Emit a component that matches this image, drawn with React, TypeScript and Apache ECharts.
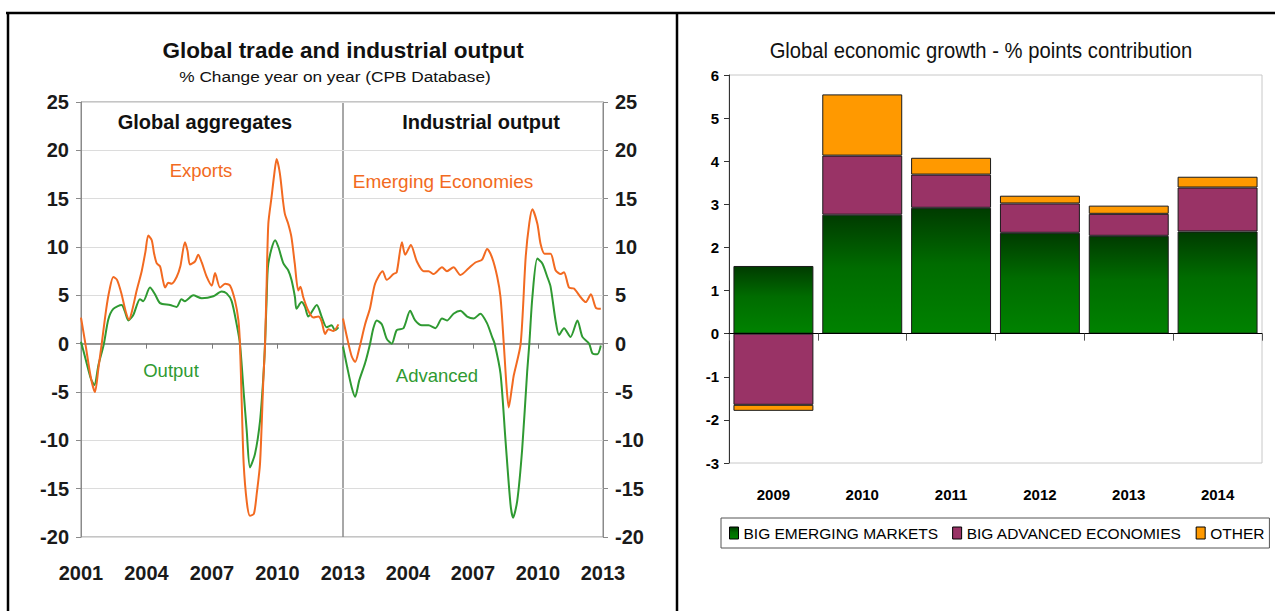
import React, { useEffect, useRef } from "react";
import * as echarts from "echarts";

// ---------- Left chart data: % change year on year (decimal year, value) ----------
const exportsData: [number, number][] = [
  [2001.0, 2.7], [2001.2, 0.0], [2001.45, -3.5], [2001.64, -5.0], [2001.8, -2.5], [2001.95, 0],
  [2002.15, 3.5], [2002.3, 5.5], [2002.48, 6.9], [2002.65, 6.6], [2002.85, 5.2], [2003.05, 3.3],
  [2003.2, 2.5], [2003.35, 3.5], [2003.55, 5.5], [2003.78, 7.5], [2003.95, 9.5], [2004.08, 11.2],
  [2004.24, 10.7], [2004.35, 9.3], [2004.47, 8.3], [2004.62, 8.0], [2004.75, 6.6], [2004.85, 5.8],
  [2005.0, 6.3], [2005.15, 6.2], [2005.38, 6.9], [2005.55, 8.0], [2005.76, 10.5], [2005.88, 9.6],
  [2005.99, 8.2], [2006.22, 8.5], [2006.37, 9.2], [2006.53, 8.4], [2006.76, 6.9], [2006.99, 6.0],
  [2007.14, 7.3], [2007.37, 5.8], [2007.6, 6.2], [2007.83, 6.0], [2008.06, 4.4], [2008.21, 2.4],
  [2008.28, 0], [2008.36, -6], [2008.45, -12.4], [2008.6, -16.5], [2008.74, -17.8], [2008.92, -17.6],
  [2009.05, -15.5], [2009.2, -12.4], [2009.35, -3.8], [2009.43, 0], [2009.5, 6], [2009.58, 12.4],
  [2009.73, 15.2], [2009.85, 17.5], [2009.96, 19.1], [2010.11, 17.6], [2010.25, 14.8], [2010.34, 13.4],
  [2010.49, 12.4], [2010.64, 11.0], [2010.79, 8.3], [2010.95, 5.5], [2011.05, 5.9], [2011.18, 4.8],
  [2011.41, 3.4], [2011.64, 2.7], [2011.87, 2.8], [2012.02, 2.3], [2012.18, 1.0], [2012.33, 1.5],
  [2012.56, 1.3], [2012.79, 2.0],
];

const outputData: [number, number][] = [
  [2001.0, 0.2], [2001.2, -1.5], [2001.45, -3.6], [2001.61, -4.3], [2001.8, -2.2], [2002.05, 0],
  [2002.25, 2.5], [2002.48, 3.6], [2002.86, 4.0], [2003.0, 3.4], [2003.17, 2.4], [2003.4, 3.0],
  [2003.7, 4.6], [2003.85, 4.4], [2004.16, 5.8], [2004.39, 5.1], [2004.62, 4.2], [2005.08, 4.0],
  [2005.38, 3.8], [2005.6, 4.6], [2005.76, 4.4], [2006.14, 5.0], [2006.53, 4.7], [2007.06, 4.9],
  [2007.44, 5.4], [2007.67, 5.2], [2007.9, 4.4], [2008.13, 2.0], [2008.28, 0], [2008.45, -5],
  [2008.59, -9.0], [2008.74, -12.8], [2008.97, -11.4], [2009.2, -8.0], [2009.35, -3.5], [2009.43, 0],
  [2009.5, 4.5], [2009.58, 8.3], [2009.89, 10.7], [2010.04, 10.0], [2010.27, 8.3], [2010.49, 7.6],
  [2010.64, 6.6], [2010.8, 4.8], [2010.87, 3.6], [2011.1, 4.3], [2011.26, 3.8], [2011.41, 2.8],
  [2011.8, 4.0], [2012.02, 2.8], [2012.25, 1.7], [2012.48, 1.9], [2012.63, 1.4], [2012.79, 1.7],
];

const emergingData: [number, number][] = [
  [2001.0, 2.6], [2001.2, 0.5], [2001.4, -1.3], [2001.56, -1.9], [2001.75, -0.5], [2002.02, 2.0],
  [2002.25, 3.7], [2002.48, 6.2], [2002.83, 7.5], [2003.02, 6.6], [2003.33, 7.2], [2003.48, 7.4],
  [2003.72, 10.5], [2003.87, 9.2], [2004.13, 10.2], [2004.41, 8.5], [2004.72, 7.5], [2004.95, 7.5],
  [2005.18, 7.2], [2005.57, 7.9], [2005.8, 7.5], [2006.1, 7.9], [2006.42, 7.1], [2006.8, 7.8],
  [2007.11, 8.4], [2007.42, 8.7], [2007.65, 9.8], [2007.88, 8.9], [2008.12, 6.9], [2008.27, 4.8],
  [2008.42, 0], [2008.55, -4.5], [2008.65, -6.6], [2008.8, -4.5], [2008.88, -3.3], [2009.2, 0],
  [2009.43, 8.9], [2009.6, 12.5], [2009.74, 13.9], [2009.97, 12.4], [2010.12, 10.3], [2010.3, 9.3],
  [2010.58, 9.3], [2010.81, 7.6], [2011.05, 7.2], [2011.2, 7.4], [2011.43, 5.8], [2011.66, 5.7],
  [2011.97, 4.8], [2012.2, 4.3], [2012.44, 5.1], [2012.67, 3.7], [2012.9, 3.6],
];

const advancedData: [number, number][] = [
  [2001.0, -0.3], [2001.2, -2.5], [2001.4, -4.5], [2001.56, -5.5], [2001.75, -3.8], [2002.02, -2.0],
  [2002.25, 0], [2002.4, 1.6], [2002.56, 2.4], [2002.79, 2.0], [2003.02, 0.5], [2003.25, 0],
  [2003.48, 1.4], [2003.79, 1.6], [2004.1, 3.4], [2004.33, 2.4], [2004.64, 1.9], [2004.95, 1.9],
  [2005.26, 1.6], [2005.57, 2.6], [2005.8, 2.4], [2006.1, 3.1], [2006.42, 3.4], [2006.73, 2.8],
  [2007.03, 2.6], [2007.34, 3.1], [2007.65, 2.1], [2007.88, 0.7], [2008.0, 0], [2008.27, -3.1],
  [2008.5, -10], [2008.73, -16.6], [2008.85, -18], [2009.04, -16.3], [2009.27, -10.9], [2009.5, -2.9],
  [2009.6, 0], [2009.74, 4.8], [2009.97, 8.8], [2010.2, 8.3], [2010.43, 6.9], [2010.58, 5.9],
  [2010.81, 2.4], [2010.97, 0.9], [2011.2, 1.6], [2011.5, 0.7], [2011.82, 2.4], [2012.05, 0.7],
  [2012.36, 0], [2012.51, -1.0], [2012.74, -1.1], [2012.9, -0.2],
];

// ---------- Right chart data: % points contribution ----------
const barCategories = ["2009", "2010", "2011", "2012", "2013", "2014"];
const bigEmerging = [1.57, 2.76, 2.92, 2.34, 2.27, 2.37];
const bigAdvanced = [-1.65, 1.37, 0.77, 0.68, 0.51, 1.02];
const otherContrib = [-0.14, 1.42, 0.39, 0.18, 0.19, 0.25];

const AR = "'Liberation Sans', Arial, Helvetica, sans-serif";
const ORANGE = "#f26a21";
const GREEN = "#2f9a32";
const GRAYAXIS = "#8a8a8a";

function txt(text: string, x: number, y: number, font: string, fill: string, scaleX = 1) {
  return {
    type: "text",
    x,
    y,
    scaleX,
    silent: true,
    style: {
      text,
      font,
      fill,
      align: "center",
      textAlign: "center",
      verticalAlign: "middle",
      textVerticalAlign: "middle",
    },
  };
}

function frameLine(x1: number, y1: number, x2: number, y2: number) {
  return {
    type: "line",
    silent: true,
    shape: { x1, y1, x2, y2 },
    style: { stroke: "#000", lineWidth: 2.5 },
  };
}

export default function App() {
  const ref = useRef<HTMLDivElement>(null);

  useEffect(() => {
    document.body.style.margin = "0";
    if (!ref.current) return;
    const chart = echarts.init(ref.current, undefined, { renderer: "svg" });

    const yearAxisBottom = (gridIndex: number, hideMin: boolean) => ({
      gridIndex,
      type: "value",
      min: 2001,
      max: 2013,
      interval: 3,
      position: "bottom",
      axisLine: { show: false, onZero: false },
      axisTick: { show: false },
      splitLine: { show: false },
      axisLabel: {
        showMinLabel: !hideMin,
        formatter: (v: number) => String(v),
        fontSize: 20,
        fontWeight: "bold",
        fontFamily: AR,
        color: "#1a1a1a",
        margin: 26,
      },
    });
    const yearAxisZero = (gridIndex: number) => ({
      gridIndex,
      type: "value",
      min: 2001,
      max: 2013,
      interval: 3,
      position: "top",
      axisLine: { show: true, onZero: true, lineStyle: { color: "#7a7a7a", width: 1.5 } },
      axisTick: { show: true, inside: true, length: 5, lineStyle: { color: "#7a7a7a" } },
      axisLabel: { show: false },
      splitLine: { show: false },
    });
    const pctAxis = (gridIndex: number, position: string) => ({
      gridIndex,
      type: "value",
      min: -20,
      max: 25,
      interval: 5,
      position,
      axisLine: { show: true, onZero: false, lineStyle: { color: GRAYAXIS } },
      axisTick: { show: true, length: 5, lineStyle: { color: GRAYAXIS } },
      splitLine: { show: true, lineStyle: { color: "#dcdcdc", width: 1 } },
      axisLabel: {
        fontSize: 20,
        fontWeight: "bold",
        fontFamily: AR,
        color: "#1a1a1a",
        margin: 12,
      },
    });

    const lineSeries = (name: string, data: [number, number][], color: string, xi: number, yi: number) => ({
      name,
      type: "line",
      xAxisIndex: xi,
      yAxisIndex: yi,
      data,
      showSymbol: false,
      smooth: 0.25,
      lineStyle: { color, width: 2 },
      itemStyle: { color },
      z: color === ORANGE ? 4 : 3,
    });

    const greenGrad = new echarts.graphic.LinearGradient(0, 0, 0, 1, [
      { offset: 0, color: "#003b00" },
      { offset: 0.45, color: "#006c00" },
      { offset: 1, color: "#008200" },
    ]);

    const barBase = {
      type: "bar",
      stack: "total",
      xAxisIndex: 4,
      yAxisIndex: 2,
      barCategoryGap: "10%",
    };

    const option: any = {
      animation: false,
      backgroundColor: "#ffffff",
      grid: [
        { left: 81, top: 102, width: 262, height: 435, show: true, borderColor: GRAYAXIS, borderWidth: 1 },
        { left: 343, top: 102, width: 260, height: 435, show: true, borderColor: GRAYAXIS, borderWidth: 1 },
        { left: 729, top: 75, width: 533, height: 388, show: true, borderColor: "#c8c8c8", borderWidth: 1 },
      ],
      xAxis: [
        yearAxisBottom(0, false),
        yearAxisZero(0),
        yearAxisBottom(1, true),
        yearAxisZero(1),
        {
          gridIndex: 2,
          type: "category",
          data: barCategories,
          position: "bottom",
          axisLine: { show: false, onZero: false },
          axisTick: { show: false },
          axisLabel: { fontSize: 15, fontWeight: "bold", fontFamily: AR, color: "#000", margin: 24 },
        },
        {
          gridIndex: 2,
          type: "category",
          data: barCategories,
          position: "top",
          axisLine: { show: true, onZero: true, lineStyle: { color: "#000", width: 1.2 } },
          axisTick: { show: true, inside: true, length: 7, lineStyle: { color: "#555" } },
          axisLabel: { show: false },
          z: 5,
        },
      ],
      yAxis: [
        pctAxis(0, "left"),
        pctAxis(1, "right"),
        {
          gridIndex: 2,
          type: "value",
          min: -3,
          max: 6,
          interval: 1,
          axisLine: { show: true, onZero: false, lineStyle: { color: "#333" } },
          axisTick: { show: true, length: 5, lineStyle: { color: "#333" } },
          splitLine: { show: false },
          axisLabel: { fontSize: 15, fontWeight: "bold", fontFamily: AR, color: "#000", margin: 10 },
        },
      ],
      legend: {
        left: 721,
        right: 2,
        top: 518,
        orient: "horizontal",
        borderColor: "#555",
        borderWidth: 1,
        padding: [7, 5, 7, 8],
        itemGap: 14,
        itemWidth: 9,
        itemHeight: 12,
        icon: "rect",
        textStyle: { fontSize: 15.5, fontFamily: AR, color: "#000" },
        itemStyle: { borderColor: "#000", borderWidth: 1 },
        data: ["BIG EMERGING MARKETS", "BIG ADVANCED ECONOMIES", "OTHER"],
      },
      series: [
        lineSeries("Output", outputData, GREEN, 0, 0),
        lineSeries("Exports", exportsData, ORANGE, 0, 0),
        lineSeries("Advanced", advancedData, GREEN, 2, 1),
        lineSeries("Emerging Economies", emergingData, ORANGE, 2, 1),
        {
          ...barBase,
          name: "BIG EMERGING MARKETS",
          data: bigEmerging,
          itemStyle: { color: greenGrad, borderColor: "#1a1a1a", borderWidth: 1 },
        },
        {
          ...barBase,
          name: "BIG ADVANCED ECONOMIES",
          data: bigAdvanced,
          itemStyle: { color: "#993366", borderColor: "#1a1a1a", borderWidth: 1 },
        },
        {
          ...barBase,
          name: "OTHER",
          data: otherContrib,
          itemStyle: { color: "#ff9900", borderColor: "#1a1a1a", borderWidth: 1 },
        },
      ],
      graphic: [
        frameLine(6, 13, 1275, 13),
        frameLine(8, 12, 8, 611),
        frameLine(677, 12, 677, 611),
        txt("Global trade and industrial output", 343, 50, `bold 22.5px ${AR}`, "#111"),
        txt("% Change year on year (CPB Database)", 335, 76, `15px ${AR}`, "#111", 1.15),
        txt("Global aggregates", 205, 122, `bold 20px ${AR}`, "#111"),
        txt("Industrial output", 481, 122, `bold 20px ${AR}`, "#111"),
        txt("Exports", 201, 170, `18.5px ${AR}`, ORANGE),
        txt("Output", 171, 370, `18.5px ${AR}`, GREEN),
        txt("Emerging Economies", 443, 181, `19px ${AR}`, ORANGE),
        txt("Advanced", 437, 375, `18.5px ${AR}`, GREEN),
        txt("Global economic growth - % points contribution", 981, 50, `22px ${AR}`, "#111", 0.92),
      ],
    };

    chart.setOption(option);
    return () => {
      chart.dispose();
    };
  }, []);

  return <div ref={ref} style={{ width: 1275, height: 611 }} />;
}
